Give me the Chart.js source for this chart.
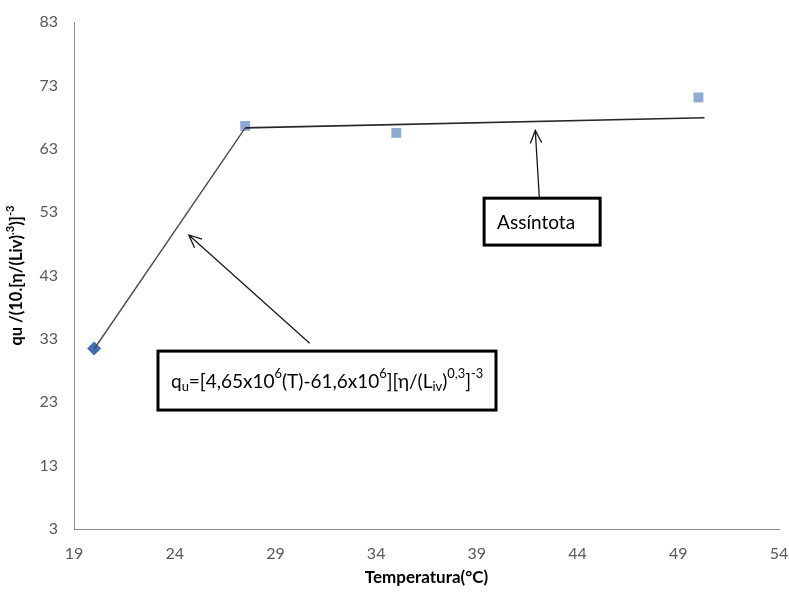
<!DOCTYPE html>
<html>
<head>
<meta charset="utf-8">
<title>Temperatura x qu</title>
<script src="https://cdn.jsdelivr.net/npm/chart.js@4.4.1/dist/chart.umd.min.js"></script>
<style>
    html, body { margin: 0; padding: 0; background: #fff; }
    #wrap { width: 789px; height: 599px; }
</style>
</head>
<body>
<div id="wrap"><canvas id="chart" width="789" height="599"></canvas></div>
<script>
// Axis ticks
const xTicks = [19, 24, 29, 34, 39, 44, 49, 54];
const yTicks = [3, 13, 23, 33, 43, 53, 63, 73, 83];

// Measured points
const firstT = [20];
const firstQ = [31.5];
const measuredT = [27.5, 35, 50];
const measuredQ = [66.6, 65.5, 71.1];

// Fitted lines: q = 4.65 T - 61.6 up to the break, then the asymptote
const slopeT = [20, 27.5];
const slopeQ = [31.4, 66.3];
const asymT = [27.5, 50.3];
const asymQ = [66.3, 67.9];

// Callout arrows [tailT, tailQ, tipT, tipQ]
const formulaArrow = [30.7, 32.3, 24.7, 49.4];
const asymArrow = [42.1, 55.4, 41.9, 65.9];

// Callout boxes [left, top, right, bottom] in axis units
const formulaBox = [23.17, 31.07, 39.95, 21.77];
const asymBox = [39.36, 55.2, 45.12, 47.8];

const xTitle = 'Temperatura(°C)';
const yTitle = [['qu /(10.[η/(Liv)'], ['.3', 'sup'], [')]'], ['-3', 'sup']];
const formulaText = [['q'], ['u', 'sub'], ['=[4,65x10'], ['6', 'sup'], ['(T)-61,6x10'], ['6', 'sup'],
    ['][η/(L'], ['iv', 'sub'], [')'], ['0,3', 'sup'], [']'], ['-3', 'sup']];
const asymText = 'Assíntota';

const FONT = "Lato, 'Open Sans', sans-serif";

function pts(xs, ys) {
    return xs.map((x, i) => ({ x: x, y: ys[i] }));
}

function segFont(seg, size, weight) {
    const small = seg[1] === 'sub' || seg[1] === 'sup';
    return weight + ' ' + (small ? size * 0.68 : size) + 'px ' + FONT;
}

function richWidth(ctx, segs, size, weight) {
    let w = 0;
    segs.forEach(s => {
        ctx.font = segFont(s, size, weight);
        w += ctx.measureText(s[0]).width;
    });
    return w;
}

function drawRich(ctx, segs, x, y, size, weight) {
    let cx = x;
    segs.forEach(s => {
        ctx.font = segFont(s, size, weight);
        let dy = 0;
        if (s[1] === 'sub') dy = size * 0.28;
        if (s[1] === 'sup') dy = -size * 0.4;
        ctx.fillText(s[0], cx, y + dy);
        cx += ctx.measureText(s[0]).width;
    });
}

function drawArrow(ctx, x0, y0, x1, y1) {
    const a = Math.atan2(y1 - y0, x1 - x0);
    const len = 14, spread = 0.42;
    ctx.beginPath();
    ctx.moveTo(x0, y0);
    ctx.lineTo(x1, y1);
    ctx.moveTo(x1 - len * Math.cos(a - spread), y1 - len * Math.sin(a - spread));
    ctx.lineTo(x1, y1);
    ctx.lineTo(x1 - len * Math.cos(a + spread), y1 - len * Math.sin(a + spread));
    ctx.stroke();
}

const callouts = {
    id: 'callouts',
    afterDraw(chart) {
        const ctx = chart.ctx;
        const sx = chart.scales.x, sy = chart.scales.y;
        const area = chart.chartArea;
        ctx.save();

        // arrows
        ctx.strokeStyle = '#1a1a1a';
        ctx.lineWidth = 1.3;
        [formulaArrow, asymArrow].forEach(a => {
            drawArrow(ctx, sx.getPixelForValue(a[0]), sy.getPixelForValue(a[1]),
                sx.getPixelForValue(a[2]), sy.getPixelForValue(a[3]));
        });

        // boxes with text
        ctx.lineWidth = 3;
        ctx.strokeStyle = '#000';
        ctx.textBaseline = 'middle';
        ctx.textAlign = 'left';
        [[formulaBox, formulaText], [asymBox, [[asymText]]]].forEach(item => {
            const b = item[0];
            const l = sx.getPixelForValue(b[0]), t = sy.getPixelForValue(b[1]);
            const r = sx.getPixelForValue(b[2]), btm = sy.getPixelForValue(b[3]);
            ctx.fillStyle = '#fff';
            ctx.fillRect(l, t, r - l, btm - t);
            ctx.strokeRect(l, t, r - l, btm - t);
            ctx.fillStyle = '#000';
            drawRich(ctx, item[1], l + 13, (t + btm) / 2 + 1, 19, 'normal');
        });

        // axis titles
        ctx.fillStyle = '#000';
        ctx.font = 'bold 17px ' + FONT;
        ctx.textAlign = 'center';
        ctx.fillText(xTitle, (area.left + area.right) / 2, area.bottom + 49);

        ctx.textAlign = 'left';
        const w = richWidth(ctx, yTitle, 16.5, 'bold');
        ctx.translate(17, (area.top + area.bottom) / 2);
        ctx.rotate(-Math.PI / 2);
        drawRich(ctx, yTitle, -w / 2, 0, 16.5, 'bold');
        ctx.restore();
    }
};

new Chart(document.getElementById('chart'), {
    type: 'scatter',
    data: {
        datasets: [
            {
                data: pts(asymT, asymQ),
                showLine: true,
                borderColor: '#262626',
                borderWidth: 1.6,
                pointRadius: 0
            },
            {
                data: pts(slopeT, slopeQ),
                showLine: true,
                borderColor: '#4d4d4d',
                borderWidth: 1.4,
                pointRadius: 0
            },
            {
                data: pts(firstT, firstQ),
                pointStyle: 'rectRot',
                pointRadius: 7,
                backgroundColor: '#3f6eb3',
                borderColor: '#3f6eb3',
                borderWidth: 0
            },
            {
                data: pts(measuredT, measuredQ),
                pointStyle: 'rect',
                pointRadius: 7,
                backgroundColor: '#90aad6',
                borderColor: '#90aad6',
                borderWidth: 0
            }
        ]
    },
    options: {
        responsive: false,
        animation: false,
        layout: { padding: { left: 0, right: 10, top: 22, bottom: 0 } },
        plugins: {
            legend: { display: false },
            tooltip: { enabled: false }
        },
        scales: {
            x: {
                type: 'linear',
                min: 19,
                max: 54,
                afterBuildTicks: s => { s.ticks = xTicks.map(v => ({ value: v })); },
                afterFit: s => { s.height = 70; s.paddingLeft = 0; s.paddingRight = 0; },
                grid: { display: true, drawOnChartArea: false, drawTicks: false, color: '#8c8c8c' },
                border: { color: '#8c8c8c', width: 1 },
                ticks: { padding: 15, color: '#595959', font: { family: FONT, size: 16 }, maxRotation: 0 }
            },
            y: {
                type: 'linear',
                min: 3,
                max: 83,
                afterBuildTicks: s => { s.ticks = yTicks.map(v => ({ value: v })); },
                afterFit: s => { s.width = 74; s.paddingTop = 0; s.paddingBottom = 0; },
                grid: { display: true, drawOnChartArea: false, drawTicks: false, color: '#8c8c8c' },
                border: { color: '#8c8c8c', width: 1 },
                ticks: { padding: 16, color: '#595959', font: { family: FONT, size: 16 } }
            }
        }
    },
    plugins: [callouts]
});
</script>
</body>
</html>
